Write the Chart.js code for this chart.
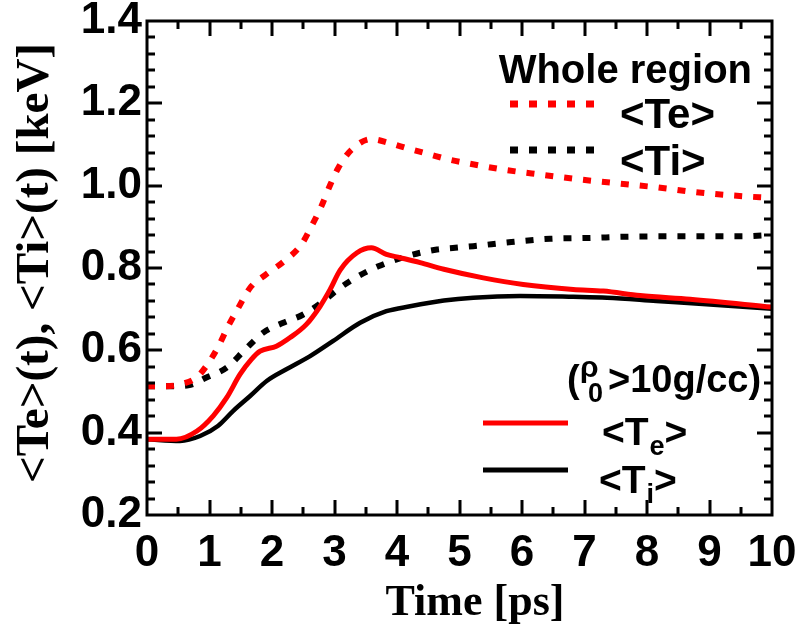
<!DOCTYPE html>
<html>
<head>
<meta charset="utf-8">
<script src="https://cdn.jsdelivr.net/npm/chart.js@4"></script>
<style>
  body { margin: 0; background: #fff; }
  canvas { display: block; }
</style>
</head>
<body>
<canvas id="tempChart" width="802" height="639"></canvas>
<script>

// whole region, electron temperature <Te>
const wholeTeTime = [0, 0.3, 0.6, 0.8, 0.95, 1.14, 1.3, 1.46, 1.65, 1.9, 2.2, 2.47, 2.63, 2.79, 2.92, 3.06, 3.27, 3.59, 3.89, 4.18, 4.5, 4.79, 5.11, 5.7, 6.29, 6.93, 7.57, 8.15, 8.79, 9.38, 10];
const wholeTe = [0.513, 0.513, 0.52, 0.535, 0.562, 0.609, 0.659, 0.703, 0.752, 0.784, 0.817, 0.857, 0.901, 0.95, 0.998, 1.043, 1.087, 1.113, 1.103, 1.09, 1.077, 1.065, 1.055, 1.039, 1.027, 1.015, 1.005, 0.996, 0.984, 0.976, 0.970];

// whole region, ion temperature <Ti>
const wholeTiTime = [0, 0.4, 0.66, 0.95, 1.275, 1.57, 1.86, 2.18, 2.5, 2.79, 3.09, 3.38, 3.7, 4.02, 4.37, 4.64, 4.93, 5.22, 5.83, 6.45, 7.09, 7.67, 8.58, 9.49, 10];
const wholeTi = [0.513, 0.513, 0.515, 0.534, 0.558, 0.602, 0.643, 0.667, 0.687, 0.716, 0.752, 0.780, 0.804, 0.822, 0.837, 0.845, 0.849, 0.853, 0.863, 0.871, 0.873, 0.876, 0.877, 0.877, 0.880];

// dense part (rho0 > 10 g/cc), <Te>
const denseTeTime = [0, 0.47, 0.8, 1.06, 1.275, 1.49, 1.67, 1.81, 2.07, 2.29, 2.55, 2.77, 2.93, 3.09, 3.36, 3.59, 3.83, 4.05, 4.37, 4.75, 5.38, 6.02, 6.82, 7.3, 7.89, 8.69, 10];
const denseTe = [0.384, 0.384, 0.404, 0.441, 0.485, 0.542, 0.578, 0.598, 0.610, 0.631, 0.663, 0.707, 0.748, 0.795, 0.837, 0.849, 0.833, 0.825, 0.813, 0.797, 0.776, 0.760, 0.748, 0.744, 0.733, 0.724, 0.705];

// dense part (rho0 > 10 g/cc), <Ti>
const denseTiTime = [0, 0.53, 0.85, 1.14, 1.38, 1.65, 1.92, 2.23, 2.61, 2.98, 3.41, 3.83, 4.21, 4.75, 5.22, 5.97, 6.82, 7.36, 8.15, 8.95, 10];
const denseTi = [0.384, 0.380, 0.392, 0.417, 0.453, 0.489, 0.526, 0.554, 0.586, 0.623, 0.667, 0.695, 0.707, 0.721, 0.728, 0.732, 0.730, 0.728, 0.720, 0.712, 0.701];

const xTicks = [0, 1, 2, 3, 4, 5, 6, 7, 8, 9, 10];
const yTicks = [0.2, 0.4, 0.6, 0.8, 1.0, 1.2, 1.4];

const RED = "#ff0000";
const BLACK = "#000000";
const SANS = "'Liberation Sans', Arial, sans-serif";
const SERIF = "'Liberation Serif', 'Times New Roman', serif";

function pairs(xs, ys) {
    return xs.map((x, i) => ({ x: x, y: ys[i] }));
}

// frame with inward ticks on all four sides
const framePlugin = {
    id: "frame",
    afterDatasetsDraw(chart) {
        const ctx = chart.ctx;
        const a = chart.chartArea;
        const xs = chart.scales.x;
        const ys = chart.scales.y;
        ctx.save();
        ctx.strokeStyle = BLACK;
        ctx.lineWidth = 3;
        ctx.lineCap = "butt";
        ctx.strokeRect(a.left, a.top, a.right - a.left, a.bottom - a.top);
        ctx.beginPath();
        for (let v = 0.5; v < 10; v += 0.5) {
            const px = Math.round(xs.getPixelForValue(v));
            const len = Number.isInteger(v) ? 15 : 8;
            ctx.moveTo(px, a.bottom); ctx.lineTo(px, a.bottom - len);
            ctx.moveTo(px, a.top); ctx.lineTo(px, a.top + len);
        }
        for (let k = 1; k < 30; k++) {
            const v = 0.2 + k * 0.04;
            const py = Math.round(ys.getPixelForValue(v));
            const len = k % 5 === 0 ? 15 : 8;
            ctx.moveTo(a.left, py); ctx.lineTo(a.left + len, py);
            ctx.moveTo(a.right, py); ctx.lineTo(a.right - len, py);
        }
        ctx.stroke();
        ctx.restore();
    }
};

// axis titles and the two hand-placed legends
function drawPieces(ctx, x, y, pieces) {
    let cx = x;
    pieces.forEach(p => {
        ctx.font = p.font;
        ctx.fillText(p.text, cx, y + (p.dy || 0));
        cx += ctx.measureText(p.text).width + (p.gap || 0);
    });
}

const textPlugin = {
    id: "texts",
    afterDraw(chart) {
        const ctx = chart.ctx;
        ctx.save();
        ctx.fillStyle = BLACK;
        ctx.textBaseline = "alphabetic";

        // axis titles
        ctx.font = "bold 44px " + SERIF;
        ctx.textAlign = "center";
        ctx.fillText("Time [ps]", 475, 615);
        ctx.save();
        ctx.translate(48, 263);
        ctx.rotate(-Math.PI / 2);
        ctx.font = "bold 47px " + SERIF;
        ctx.fillText("<Te>(t), <Ti>(t) [keV]", 0, 0);
        ctx.restore();

        // whole region legend
        ctx.textAlign = "right";
        ctx.font = "bold 40px " + SANS;
        ctx.fillText("Whole region", 752, 83);
        ctx.textAlign = "left";
        ctx.font = "bold 42px " + SANS;
        ctx.fillText("<Te>", 620, 128);
        ctx.fillText("<Ti>", 620, 175);

        ctx.lineWidth = 7;
        ctx.setLineDash([8, 11]);
        ctx.strokeStyle = RED;
        ctx.beginPath(); ctx.moveTo(510, 104); ctx.lineTo(600, 104); ctx.stroke();
        ctx.strokeStyle = BLACK;
        ctx.beginPath(); ctx.moveTo(510, 150); ctx.lineTo(600, 150); ctx.stroke();
        ctx.setLineDash([]);

        // dense region legend
        const big = "bold 38px " + SANS;
        const sub = "bold 27px " + SANS;
        ctx.font = big;
        ctx.fillText("(", 567, 392);
        ctx.font = "bold 30px " + SANS;
        ctx.fillText("\u03C1", 580, 377);
        ctx.font = sub;
        ctx.fillText("0", 588, 402);
        ctx.font = big;
        ctx.fillText(">10g/cc)", 608, 392);

        ctx.lineWidth = 5;
        ctx.strokeStyle = RED;
        ctx.beginPath(); ctx.moveTo(483, 423); ctx.lineTo(568, 423); ctx.stroke();
        ctx.strokeStyle = BLACK;
        ctx.beginPath(); ctx.moveTo(483, 470); ctx.lineTo(568, 470); ctx.stroke();

        ctx.fillStyle = BLACK;
        drawPieces(ctx, 602, 445, [
            { text: "<T", font: "bold 39px " + SANS, gap: 1 },
            { text: "e", font: sub, dy: 10 },
            { text: ">", font: "bold 39px " + SANS }
        ]);
        drawPieces(ctx, 599, 493, [
            { text: "<T", font: "bold 39px " + SANS, gap: 1 },
            { text: "i", font: sub, dy: 10 },
            { text: ">", font: "bold 39px " + SANS }
        ]);
        ctx.restore();
    }
};

const dotted = [8, 11];

new Chart(document.getElementById("tempChart"), {
    type: "line",
    data: {
        datasets: [
            {
                label: "<Te> dense",
                data: pairs(denseTeTime, denseTe),
                borderColor: RED,
                borderWidth: 5,
                order: 0
            },
            {
                label: "<Ti> dense",
                data: pairs(denseTiTime, denseTi),
                borderColor: BLACK,
                borderWidth: 4.5,
                order: 2
            },
            {
                label: "<Te> whole",
                data: pairs(wholeTeTime, wholeTe),
                borderColor: RED,
                borderWidth: 6,
                borderDash: dotted,
                order: 1
            },
            {
                label: "<Ti> whole",
                data: pairs(wholeTiTime, wholeTi),
                borderColor: BLACK,
                borderWidth: 6,
                borderDash: dotted,
                order: 3
            }
        ]
    },
    options: {
        responsive: false,
        animation: false,
        layout: { padding: { top: 21, right: 30, left: 0, bottom: 0 } },
        elements: {
            point: { radius: 0 },
            line: { cubicInterpolationMode: "monotone", fill: false, borderCapStyle: "butt" }
        },
        plugins: {
            legend: { display: false },
            tooltip: { enabled: false }
        },
        scales: {
            x: {
                type: "linear",
                min: 0,
                max: 10,
                afterFit(scale) {
                    scale.height = 124;
                    scale.paddingLeft = 0;
                    scale.paddingRight = 0;
                },
                afterBuildTicks(scale) { scale.ticks = xTicks.map(v => ({ value: v })); },
                grid: { display: false, drawTicks: false },
                border: { display: false },
                ticks: {
                    color: BLACK,
                    padding: 12,
                    maxRotation: 0,
                    font: { family: SANS, size: 44, weight: "bold" },
                    callback: v => String(v)
                }
            },
            y: {
                type: "linear",
                min: 0.2,
                max: 1.4,
                afterFit(scale) {
                    scale.width = 147;
                    scale.paddingTop = 0;
                    scale.paddingBottom = 0;
                },
                afterBuildTicks(scale) { scale.ticks = yTicks.map(v => ({ value: v })); },
                grid: { display: false, drawTicks: false },
                border: { display: false },
                ticks: {
                    color: BLACK,
                    padding: 5,
                    font: { family: SANS, size: 44, weight: "bold" },
                    callback: v => v.toFixed(1)
                }
            }
        }
    },
    plugins: [framePlugin, textPlugin]
});
</script>
</body>
</html>
